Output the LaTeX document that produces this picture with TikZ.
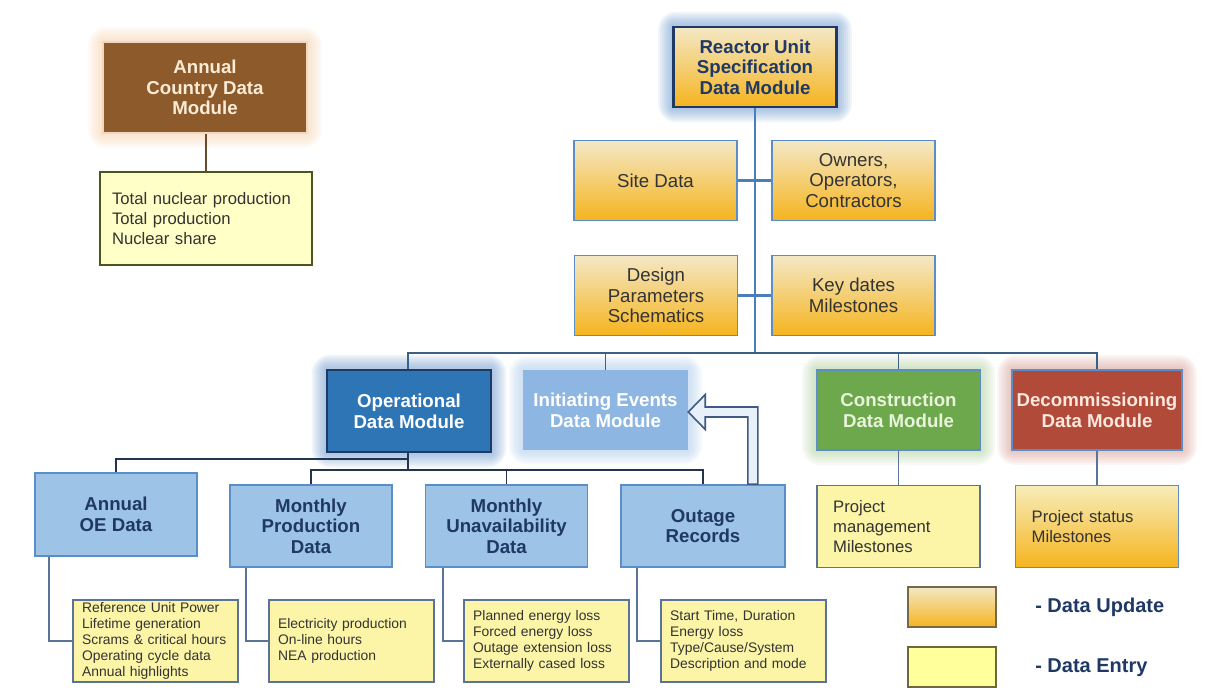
\documentclass[tikz,border=0pt]{standalone}
\usepackage{fontspec}
\setmainfont{Liberation Sans}
\usetikzlibrary{calc,backgrounds}

\definecolor{cbrown}{HTML}{8C5A2B}
\definecolor{cnavy}{HTML}{1F3864}
\definecolor{cline}{HTML}{22344E}
\definecolor{cbus}{HTML}{3C5F85}
\definecolor{ctrunk}{HTML}{4A7EBB}
\definecolor{cedge}{HTML}{5B8DC6}
\definecolor{cgrey}{HTML}{5A7396}
\definecolor{updtop}{HTML}{F4E8C6}
\definecolor{updbot}{HTML}{F5B41E}
\definecolor{centry}{HTML}{FCF5A8}
\definecolor{cdark}{HTML}{2E75B6}
\definecolor{clight}{HTML}{8DB6E2}
\definecolor{cpale}{HTML}{9DC3E6}
\definecolor{cgreen}{HTML}{6EA84C}
\definecolor{cred}{HTML}{B24A3A}
\definecolor{ctext}{HTML}{333333}
\definecolor{carrow}{HTML}{E8F1FA}

% soft halo behind a box
\newcommand{\glowbox}[2]{%
  \foreach \g in {2,4,...,14}
    \fill[#2,opacity=0.09,rounded corners=\g pt] ($(#1.south west)+(-\g,\g)$) rectangle ($(#1.north east)+(\g,-\g)$);}

\begin{document}
\begin{tikzpicture}[x=0.75pt,y=0.75pt,yscale=-1,xscale=1,
  big/.style={font=\fontsize{14}{15.5}\selectfont\bfseries,align=center},
  modbox/.style={big,minimum width=123pt,minimum height=60pt,inner sep=1pt,text=white},
  updbox/.style={top color=updtop,bottom color=updbot,draw=cedge,line width=1.4pt,minimum width=122.25pt,minimum height=60pt,text=ctext,font=\fontsize{14}{15.5}\selectfont,align=center},
  oebox/.style={big,fill=cpale,draw=cedge,line width=1.4pt,minimum width=121.5pt,minimum height=61.5pt,text=cnavy},
  entrybox/.style={fill=centry,draw=cgrey,line width=1.2pt,minimum height=61.5pt,align=left,text=ctext},
  smalltxt/.style={entrybox,font=\fontsize{10.4}{11.9}\selectfont,text width=110pt,inner xsep=7pt,inner ysep=0pt},
  midtxt/.style={entrybox,font=\fontsize{12.5}{15}\selectfont,text width=98pt,inner xsep=12pt},
  wire/.style={draw=cline,line width=1.4pt},
  legtxt/.style={font=\fontsize{15}{17}\selectfont\bfseries,text=cnavy,anchor=west,inner sep=0pt}]
\useasboundingbox (0,0) rectangle (1206,688);

% Text Node
\draw (205,87.5) node [modbox,fill=cbrown,draw={rgb,255:red,240;green,215;blue,190},line width=1.4pt,minimum width=153pt,minimum height=68.25pt,text={rgb,255:red,252;green,236;blue,214}] (country) {Annual\\Country Data\\Module};
% Text Node
\draw (206,218.5) node [entrybox,fill={rgb,255:red,255;green,255;blue,200},draw={rgb,255:red,75;green,85;blue,30},font=\fontsize{12.5}{15}\selectfont,text width=141pt,inner xsep=9pt,minimum height=69.75pt] (countrydata) {Total nuclear production\\Total production\\Nuclear share};

% Text Node
\draw (755,67) node [updbox,draw=cnavy,line width=2.2pt,text=cnavy,font=\fontsize{14}{15.5}\selectfont\bfseries] (reactor) {Reactor Unit\\Specification\\Data Module};
% Text Node
\draw (655.5,180.5) node [updbox] (site) {Site Data};
% Text Node
\draw (853.5,180.5) node [updbox] (owners) {Owners,\\Operators,\\Contractors};
% Text Node
\draw (656,295.5) node [updbox] (design) {Design\\Parameters\\Schematics};
% Text Node
\draw (853.5,295.5) node [updbox] (keydates) {Key dates\\Milestones};

% Text Node
\draw (409,411) node [modbox,fill=cdark,draw=cnavy,line width=2pt,minimum height=61.5pt] (operational) {Operational\\Data Module};
% Text Node
\draw (605.5,410) node [modbox,fill=clight,minimum width=123.75pt] (initiating) {Initiating Events\\Data Module};
% Text Node
\draw (898.5,410) node [modbox,fill=cgreen,draw=cedge,line width=1.4pt,text={rgb,255:red,232;green,244;blue,220}] (construction) {Construction\\Data Module};
% Text Node
\draw (1097,410) node [modbox,fill=cred,draw=cedge,line width=1.4pt,minimum width=127.5pt,text={rgb,255:red,252;green,232;blue,222}] (decom) {Decommissioning\\Data Module};

% Text Node
\draw (116,514.5) node [oebox,minimum height=62.25pt] (annualoe) {Annual\\OE Data};
% Text Node
\draw (311,526) node [oebox] (monthprod) {Monthly\\Production\\Data};
% Text Node
\draw (506.5,526) node [oebox] (monthunav) {Monthly\\Unavailability\\Data};
% Text Node
\draw (703,526) node [oebox,minimum width=123pt] (outage) {Outage\\Records};

% Text Node
\draw (898.5,526.5) node [midtxt] (condata) {Project\\management\\Milestones};
% Text Node
\draw (1097,526.5) node [midtxt,fill=none,top color=updtop!60!centry,bottom color=updbot,draw=cedge] (decomdata) {Project status\\Milestones};

% Text Node
\draw (155.5,641) node [smalltxt] (oedata) {Reference Unit Power\\Lifetime generation\\Scrams \& critical hours\\Operating cycle data\\Annual highlights};
% Text Node
\draw (351.5,641) node [smalltxt] (proddata) {Electricity production\\On-line hours\\NEA production};
% Text Node
\draw (546.5,641) node [smalltxt] (unavdata) {Planned energy loss\\Forced energy loss\\Outage extension loss\\Externally cased loss};
% Text Node
\draw (743.5,641) node [smalltxt] (outagedata) {Start Time, Duration\\Energy loss\\Type/Cause/System\\Description and mode};

% Legend
\draw (952,607) node [updbox,draw={rgb,255:red,120;green,105;blue,70},line width=1.2pt,minimum width=66pt,minimum height=30pt] (legupd) {};
\draw (952,667) node [entrybox,fill={rgb,255:red,255;green,255;blue,156},draw={rgb,255:red,110;green,105;blue,60},minimum width=66pt,minimum height=30pt] (legent) {};
\draw (1035,607) node [legtxt] (legupdtxt) {- Data Update};
\draw (1035,668) node [legtxt] (legenttxt) {- Data Entry};

%Straight Lines
\draw [draw={rgb,255:red,107;green,74;blue,42},line width=1.4pt] (countrydata.north) -- (countrydata.north |- country.south);

%Straight Lines
\coordinate (trunk) at (755,353);
\draw [draw=ctrunk,line width=2pt] (reactor.south) -- (trunk);
\draw [draw=ctrunk,line width=1.6pt] (site.east) -- (owners.west);
\draw [draw=ctrunk,line width=1.6pt] (design.east) -- (keydates.west);

%Straight Lines
\coordinate (busL) at (408,353);
\coordinate (busR) at (1097,353);
\draw [draw=cbus,line width=1.4pt] (operational.north -| busL) -- (busL) -- (busR) -- (decom.north);
\draw [draw=cbus,line width=1.4pt] (initiating.north) -- (initiating.north |- busL);
\draw [draw=cbus,line width=1.4pt] (construction.north) -- (construction.north |- busL);

%Straight Lines
\coordinate (opbus) at (408,470);
\coordinate (oebus) at (408,459);
\draw [wire] (operational.south -| opbus) -- (opbus);
\draw [wire] (annualoe.north) -- (annualoe.north |- oebus) -- (oebus);
\draw [wire] (monthprod.north) -- (monthprod.north |- opbus) -| (outage.north);
\draw [wire] (monthunav.north) -- (monthunav.north |- opbus);

%Straight Lines
\draw [draw=cgrey,line width=1.4pt] ($(annualoe.south west)+(15,0)$) |- (oedata.west);
\draw [draw=cgrey,line width=1.4pt] ($(monthprod.south west)+(17,0)$) |- (proddata.west);
\draw [draw=cgrey,line width=1.4pt] ($(monthunav.south west)+(18,0)$) |- (unavdata.west);
\draw [draw=cgrey,line width=1.4pt] ($(outage.south west)+(17,0)$) |- (outagedata.west);
\draw [draw=cgrey,line width=1.4pt] (construction.south) -- (condata.north);
\draw [draw=cgrey,line width=1.4pt] (decom.south) -- (decomdata.north);

%Shape: Block Arrow
\coordinate (tip) at ($(initiating.east)+(0,2)$);
\coordinate (a1) at ($(outage.north east)+(-38,0)$);
\coordinate (a2) at ($(outage.north east)+(-28,0)$);
\filldraw [fill=carrow,draw={rgb,255:red,62;green,90;blue,133},line width=1.2pt,line join=miter]
  (a1) -- ($(a1 |- tip)+(0,5)$) -- ($(tip)+(17,5)$) -- ($(tip)+(17,17.5)$) -- (tip)
  -- ($(tip)+(17,-17.5)$) -- ($(tip)+(17,-5)$) -- ($(a2 |- tip)+(0,-5)$) -- (a2) -- cycle;

% halos
\begin{scope}[on background layer]
\glowbox{country}{orange!60!brown!40}
\glowbox{reactor}{cedge}
\glowbox{operational}{cedge}
\glowbox{initiating}{cpale}
\glowbox{construction}{cgreen!60}
\glowbox{decom}{cred!60}
\end{scope}

\end{tikzpicture}
\end{document}
